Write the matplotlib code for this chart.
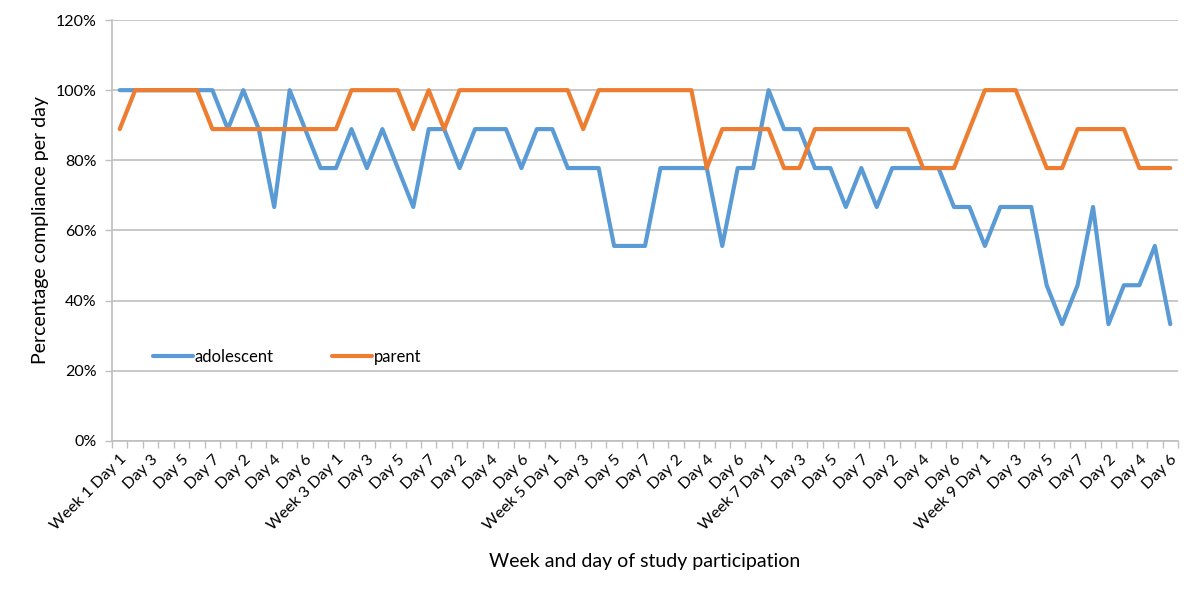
import matplotlib
matplotlib.use('Agg')
import matplotlib.pyplot as plt
from matplotlib.ticker import PercentFormatter, FixedLocator

# categories: weeks 1-9 have 7 days, week 10 has 6
days_per_week = [7, 7, 7, 7, 7, 7, 7, 7, 7, 6]
categories = []
for w, nd in enumerate(days_per_week, start=1):
    for d in range(1, nd + 1):
        categories.append('Week %d Day 1' % w if d == 1 else 'Day %d' % d)

adolescent = [100, 100, 100, 100, 100, 100, 100, 88.9, 100, 88.9,
              66.7, 100, 88.9, 77.8, 77.8, 88.9, 77.8, 88.9, 77.8, 66.7,
              88.9, 88.9, 77.8, 88.9, 88.9, 88.9, 77.8, 88.9, 88.9, 77.8,
              77.8, 77.8, 55.6, 55.6, 55.6, 77.8, 77.8, 77.8, 77.8, 55.6,
              77.8, 77.8, 100, 88.9, 88.9, 77.8, 77.8, 66.7, 77.8, 66.7,
              77.8, 77.8, 77.8, 77.8, 66.7, 66.7, 55.6, 66.7, 66.7, 66.7,
              44.4, 33.3, 44.4, 66.7, 33.3, 44.4, 44.4, 55.6, 33.3]

parent = [88.9, 100, 100, 100, 100, 100, 88.9, 88.9, 88.9, 88.9,
          88.9, 88.9, 88.9, 88.9, 88.9, 100, 100, 100, 100, 88.9,
          100, 88.9, 100, 100, 100, 100, 100, 100, 100, 100,
          88.9, 100, 100, 100, 100, 100, 100, 100, 77.8, 88.9,
          88.9, 88.9, 88.9, 77.8, 77.8, 88.9, 88.9, 88.9, 88.9, 88.9,
          88.9, 88.9, 77.8, 77.8, 77.8, 88.9, 100, 100, 100, 88.9,
          77.8, 77.8, 88.9, 88.9, 88.9, 88.9, 77.8, 77.8, 77.8]

plt.rcParams['font.family'] = ['Lato', 'DejaVu Sans']

grid_col = '#BFBFBF'
fig = plt.figure(figsize=(12, 5.9), dpi=100)
ax = fig.add_axes([112 / 1200, 1 - 441 / 590, 1066 / 1200, 421 / 590])

x = list(range(len(categories)))
ax.plot(x, [v / 100 for v in adolescent], color='#5B9BD5', lw=3, label='adolescent',
        solid_joinstyle='round', solid_capstyle='round', zorder=3)
ax.plot(x, [v / 100 for v in parent], color='#ED7D31', lw=3, label='parent',
        solid_joinstyle='round', solid_capstyle='round', zorder=3)

ax.set_xlim(-0.5, len(categories) - 0.5)
ax.set_ylim(0, 1.2)
ax.set_yticks([0, 0.2, 0.4, 0.6, 0.8, 1.0, 1.2])
ax.yaxis.set_major_formatter(PercentFormatter(1.0, decimals=0))
ax.yaxis.grid(True, color=grid_col, lw=1.2)
ax.set_axisbelow(True)

ax.set_xticks(x[::2])
ax.set_xticklabels(categories[::2], rotation=45, ha='right', rotation_mode='anchor')
ax.xaxis.set_minor_locator(FixedLocator([i - 0.5 for i in range(len(categories) + 1)]))
ax.tick_params(axis='x', which='major', length=0, pad=8, labelsize=11.5, colors='black')
ax.tick_params(axis='x', which='minor', length=5, color=grid_col, width=1)
ax.tick_params(axis='y', length=5, color=grid_col, width=1, labelsize=11.5, pad=6)

for s in ['top', 'right']:
    ax.spines[s].set_visible(False)
for s in ['left', 'bottom']:
    ax.spines[s].set_color(grid_col)
    ax.spines[s].set_linewidth(1.2)

ax.set_ylabel('Percentage compliance per day', fontsize=14, labelpad=5)
ax.set_xlabel('Week and day of study participation', fontsize=14, labelpad=14)

ax.legend(loc='center left', bbox_to_anchor=(0.032, 0.2), ncol=2, frameon=False,
          fontsize=12, handlelength=2.4, handletextpad=0.1, columnspacing=3.5,
          borderaxespad=0)

fig.savefig('out.png', dpi=100)
